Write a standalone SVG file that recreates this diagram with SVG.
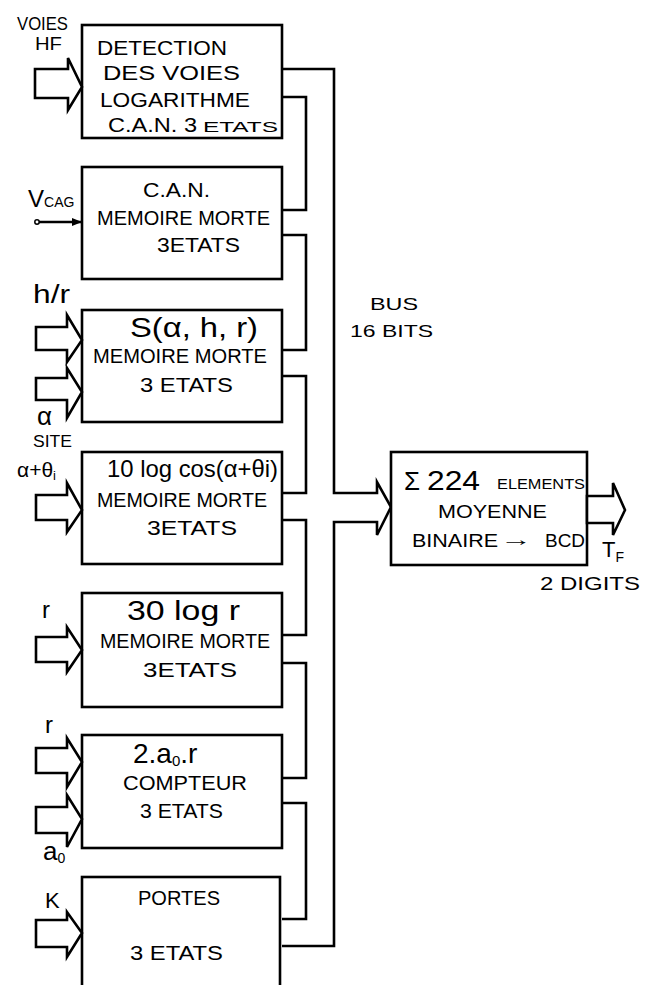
<svg xmlns="http://www.w3.org/2000/svg" width="657" height="985" viewBox="0 0 657 985" font-size="20">
<style>
.box{fill:#fff;stroke:#000;stroke-width:2.6}
.ln{fill:none;stroke:#000;stroke-width:2.6;stroke-linejoin:miter}
.arr{fill:#fff;stroke:#000;stroke-width:2.6;stroke-linejoin:miter}
text{font-family:"Liberation Sans",Arial,sans-serif;fill:#000}
</style>
<defs>
<marker id="ah" markerWidth="10" markerHeight="8" refX="9" refY="4" orient="auto" markerUnits="userSpaceOnUse">
<path d="M0,0 L10,4 L0,8 Z" fill="#000"/>
</marker>
</defs>
<rect width="657" height="985" fill="#fff"/>
<g id="connectors">
<path class="ln" d="M282,69 H334 V493 H377 V482 L391,507 L377,535 V522 H334 V946 H282"/>
<path class="ln" d="M282,97 H306 V210 H282"/>
<path class="ln" d="M282,235 H306 V350 H282"/>
<path class="ln" d="M282,376 H306 V493 H282"/>
<path class="ln" d="M282,520 H306 V635 H282"/>
<path class="ln" d="M282,663 H306 V778 H282"/>
<path class="ln" d="M282,803 H306 V919 H282"/>
<text font-size="17" x="370" y="310" textLength="48" lengthAdjust="spacingAndGlyphs">BUS</text>
<text font-size="17" x="350" y="337" textLength="83" lengthAdjust="spacingAndGlyphs">16 BITS</text>
</g>
<g id="n1">
<rect class="box" x="82" y="25" width="200" height="113"/>
<polygon class="arr" points="35,69 68,69 68,58 82,87 68,110 68,98 35,98"/>
<text font-size="18" x="17" y="30" textLength="51" lengthAdjust="spacingAndGlyphs">VOIES</text>
<text font-size="18" x="35" y="50" textLength="27" lengthAdjust="spacingAndGlyphs">HF</text>
<text x="97" y="55" textLength="130" lengthAdjust="spacingAndGlyphs">DETECTION</text>
<text x="103" y="80" textLength="137" lengthAdjust="spacingAndGlyphs">DES VOIES</text>
<text x="100" y="107" textLength="150" lengthAdjust="spacingAndGlyphs">LOGARITHME</text>
<text x="108" y="132" textLength="89" lengthAdjust="spacingAndGlyphs">C.A.N. 3</text>
<text font-size="15" x="203" y="132" textLength="75" lengthAdjust="spacingAndGlyphs">ETATS</text>
</g>
<g id="n2">
<rect class="box" x="82" y="167" width="200" height="112"/>
<line class="ln" x1="38" y1="222" x2="81" y2="222" marker-end="url(#ah)"/>
<circle cx="37" cy="222" r="2.2" fill="#fff" stroke="#000" stroke-width="1.5"/>
<text x="28" y="207" font-size="24">V<tspan font-size="14">CAG</tspan></text>
<text x="143" y="197" textLength="67" lengthAdjust="spacingAndGlyphs">C.A.N.</text>
<text x="97" y="225" textLength="173" lengthAdjust="spacingAndGlyphs">MEMOIRE MORTE</text>
<text x="157" y="252" textLength="83" lengthAdjust="spacingAndGlyphs">3ETATS</text>
</g>
<g id="n3">
<rect class="box" x="82" y="310" width="200" height="112"/>
<polygon class="arr" points="36,327 67,327 67,315 82,340 67,362 67,350 36,350"/>
<polygon class="arr" points="36,378 67,378 67,368 82,392 67,418 67,400 36,400"/>
<text x="33" y="303" font-size="26" textLength="37" lengthAdjust="spacingAndGlyphs">h/r</text>
<text x="37" y="425" font-size="26">α</text>
<text font-size="17" x="33" y="447" textLength="39" lengthAdjust="spacingAndGlyphs">SITE</text>
<text x="130" y="337" font-size="28" textLength="128" lengthAdjust="spacingAndGlyphs">S(α, h, r)</text>
<text x="93" y="363" textLength="174" lengthAdjust="spacingAndGlyphs">MEMOIRE MORTE</text>
<text x="140" y="392" textLength="93" lengthAdjust="spacingAndGlyphs">3 ETATS</text>
</g>
<g id="n4">
<rect class="box" x="82" y="452" width="200" height="112"/>
<polygon class="arr" points="36,495 67,495 67,483 82,510 67,532 67,520 36,520"/>
<text x="17" y="477" font-size="21">α+θ<tspan font-size="13" dy="3">i</tspan></text>
<text x="107" y="477" font-size="24" textLength="171" lengthAdjust="spacingAndGlyphs">10 log cos(α+θi)</text>
<text x="97" y="507" textLength="170" lengthAdjust="spacingAndGlyphs">MEMOIRE MORTE</text>
<text x="147" y="535" textLength="90" lengthAdjust="spacingAndGlyphs">3ETATS</text>
</g>
<g id="n5">
<rect class="box" x="82" y="593" width="200" height="114"/>
<polygon class="arr" points="36,637 67,637 67,627 82,650 67,672 67,662 36,662"/>
<text x="42" y="618" font-size="24">r</text>
<text x="127" y="620" font-size="28" textLength="113" lengthAdjust="spacingAndGlyphs">30 log r</text>
<text x="100" y="648" textLength="170" lengthAdjust="spacingAndGlyphs">MEMOIRE MORTE</text>
<text x="143" y="677" textLength="94" lengthAdjust="spacingAndGlyphs">3ETATS</text>
</g>
<g id="n6">
<rect class="box" x="82" y="735" width="200" height="113"/>
<polygon class="arr" points="36,748 67,748 67,738 82,762 67,787 67,773 36,773"/>
<polygon class="arr" points="36,807 67,807 67,795 82,819 67,847 67,833 36,833"/>
<text x="45" y="733" font-size="24">r</text>
<text x="43" y="860" font-size="26">a<tspan font-size="14" dy="3">0</tspan></text>
<text x="133" y="763" font-size="28">2.a<tspan font-size="15" dy="3">0</tspan><tspan dy="-3">.r</tspan></text>
<text x="123" y="790" textLength="124" lengthAdjust="spacingAndGlyphs">COMPTEUR</text>
<text x="140" y="818" textLength="83" lengthAdjust="spacingAndGlyphs">3 ETATS</text>
</g>
<g id="n7">
<rect class="box" x="82" y="877" width="198" height="120"/>
<polygon class="arr" points="36,920 67,920 67,912 82,933 67,957 67,947 36,947"/>
<text x="45" y="908" font-size="22">K</text>
<text x="138" y="905" textLength="82" lengthAdjust="spacingAndGlyphs">PORTES</text>
<text x="130" y="960" textLength="93" lengthAdjust="spacingAndGlyphs">3 ETATS</text>
</g>
<g id="n8">
<rect class="box" x="391" y="452" width="196" height="113"/>
<polygon class="arr" points="587,496 613,496 613,483 625,510 613,535 613,523 587,523"/>
<text x="404" y="490" font-size="26">Σ</text>
<text x="427" y="490" font-size="28" textLength="53" lengthAdjust="spacingAndGlyphs">224</text>
<text x="497" y="489" font-size="15" textLength="88" lengthAdjust="spacingAndGlyphs">ELEMENTS</text>
<text x="438" y="518" font-size="19" textLength="109" lengthAdjust="spacingAndGlyphs">MOYENNE</text>
<text x="412" y="547" font-size="19" textLength="86" lengthAdjust="spacingAndGlyphs">BINAIRE</text>
<text x="500" y="546" font-size="19" textLength="32" lengthAdjust="spacingAndGlyphs">→</text>
<text x="545" y="547" font-size="19" textLength="40" lengthAdjust="spacingAndGlyphs">BCD</text>
<text x="602" y="557" font-size="22">T<tspan font-size="14" dy="5">F</tspan></text>
<text x="540" y="590" font-size="19" textLength="100" lengthAdjust="spacingAndGlyphs">2 DIGITS</text>
</g>
</svg>
